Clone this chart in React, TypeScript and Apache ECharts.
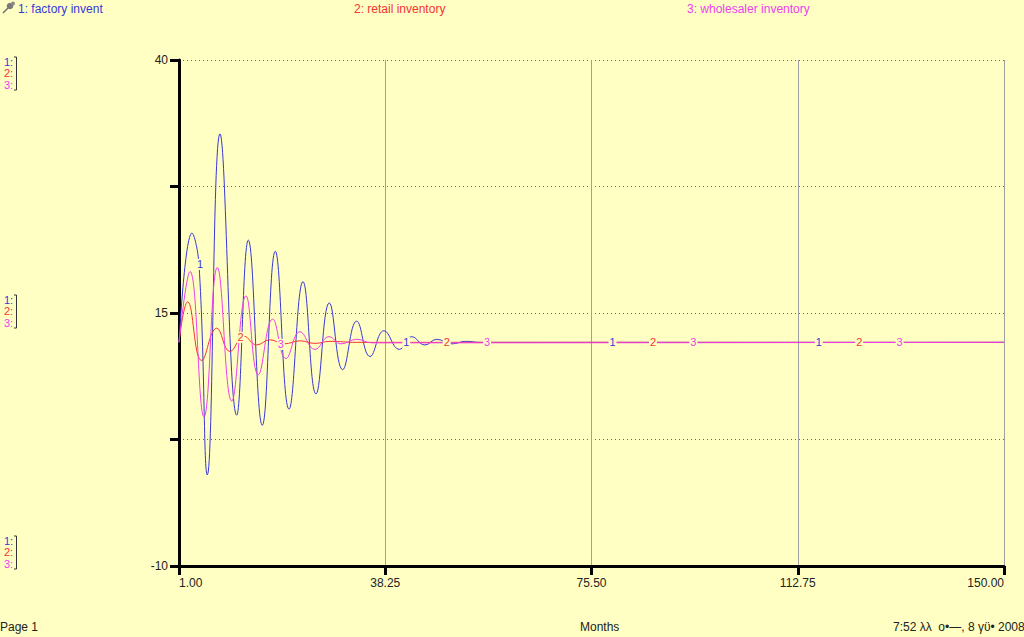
import React, { useEffect, useRef } from "react";
import * as echarts from "echarts";

// ---- data ----
const factoryT = [1, 3.35, 4.61, 6.11, 8.4, 11.42, 13.52, 16.04, 18.39, 20.87, 23.39, 25.74, 28.15, 30.56, 33.09, 35.5, 38.02, 40.79, 43.03, 45.43, 47.54, 50.3, 52.8, 55.4, 150];
const factoryV = [12.1, 22.9, 19.8, -1.0, 32.7, 4.9, 22.2, 3.9, 21.1, 5.5, 18.1, 7.0, 16.0, 9.4, 14.2, 10.7, 13.25, 11.4, 12.66, 11.84, 12.4, 11.95, 12.2, 12.1, 12.1];

const retailT = [1, 2.57, 5.1, 7.81, 10.21, 12.74, 15.03, 17.43, 19.96, 22.85, 25.56, 28.27, 33, 150];
const retailV = [12.1, 16.1, 10.3, 13.5, 11.2, 12.7, 11.85, 12.35, 11.95, 12.25, 12.0, 12.2, 12.1, 12.1];

const wholesalerT = [1, 2.99, 5.51, 7.92, 10.52, 13.1, 15.32, 17.92, 20.32, 22.85, 25.56, 28.09, 30.26, 33.09, 35.86, 150];
const wholesalerV = [12.1, 19.1, 4.75, 19.5, 6.3, 16.7, 8.9, 14.4, 10.5, 13.15, 11.4, 12.66, 11.95, 12.4, 12.05, 12.1];

// line-number markers drawn on each curve
const label1T = [4.79, 42.05, 79.3, 116.55];
const label1V = [19.8, 12.1, 12.1, 12.1];
const label2T = [12.1, 49.35, 86.6, 123.85];
const label2V = [12.6, 12.1, 12.1, 12.1];
const label3T = [19.4, 56.65, 93.9, 131.15];
const label3V = [11.9, 12.1, 12.1, 12.1];

const xTicks = [1, 38.25, 75.5, 112.75, 150];
const yTicks = [-10, 2.5, 15, 27.5, 40];
const yLabels = [-10, 15, 40];

const seriesNames = ["1: factory invent", "2: retail inventory", "3: wholesaler inventory"];

const BG = "#FFFFC4";
const BLUE = "#3838D8";
const RED = "#F43434";
const MAGENTA = "#EE3EEE";
const FONT = "'Liberation Sans', Arial, sans-serif";

function zip(t: number[], v: number[]) {
  return t.map((x, i) => [x, v[i]]);
}

function makeSeries(name: string, t: number[], v: number[], lt: number[], lv: number[], color: string, num: string) {
  return {
    name,
    type: "line",
    data: zip(t, v),
    smooth: 0.45,
    showSymbol: false,
    symbol: "none",
    lineStyle: { color, width: 1 },
    itemStyle: { color },
    silent: true,
    markPoint: {
      symbol: "rect",
      symbolSize: [8, 11],
      silent: true,
      itemStyle: { color: BG },
      label: { show: true, position: "inside", formatter: num, color, fontSize: 11, fontFamily: FONT },
      data: lt.map((x, i) => ({ coord: [x, lv[i]] })),
    },
  };
}

function sideKey(y: number) {
  return [
    { type: "text", left: 4, top: y - 6, style: { text: "1:", fill: BLUE, font: `11px ${FONT}` } },
    { type: "text", left: 4, top: y + 5.5, style: { text: "2:", fill: RED, font: `11px ${FONT}` } },
    { type: "text", left: 4, top: y + 17, style: { text: "3:", fill: MAGENTA, font: `11px ${FONT}` } },
    {
      type: "polyline",
      shape: { points: [[14, y - 5], [16.5, y - 5], [16.5, y + 28], [14, y + 28]] },
      style: { stroke: "#333", lineWidth: 1, fill: null },
    },
  ];
}

export default function App() {
  const ref = useRef<HTMLDivElement>(null);
  useEffect(() => {
    if (!ref.current) return;
    const chart = echarts.init(ref.current, null, { renderer: "svg" });
    const option: any = {
      animation: false,
      backgroundColor: BG,
      grid: { left: 179, right: 20, top: 60, bottom: 71, containLabel: false },
      xAxis: {
        type: "value",
        min: 1,
        max: 150,
        axisLine: { show: true, onZero: false, lineStyle: { color: "#000", width: 3 } },
        axisTick: { show: true, customValues: xTicks, length: 9, lineStyle: { color: "#000", width: 3 } },
        axisLabel: {
          show: true,
          customValues: xTicks,
          formatter: (v: number) => v.toFixed(2),
          margin: 11,
          color: "#222",
          fontSize: 12,
          fontFamily: FONT,
          alignMinLabel: "left",
          alignMaxLabel: "right",
        },
        splitLine: { show: true, lineStyle: { color: "#a0a0a0", width: 1, type: "solid" } },
      },
      yAxis: {
        type: "value",
        min: -10,
        max: 40,
        axisLine: { show: true, onZero: false, lineStyle: { color: "#000", width: 3 } },
        axisTick: { show: true, customValues: yTicks, length: 9, lineStyle: { color: "#000", width: 3 } },
        axisLabel: {
          show: true,
          customValues: yLabels,
          margin: 11,
          color: "#222",
          fontSize: 12,
          fontFamily: FONT,
        },
        splitLine: { show: true, lineStyle: { color: "#666", width: 1, type: [1, 3] } },
      },
      series: [
        makeSeries(seriesNames[0], factoryT, factoryV, label1T, label1V, BLUE, "1"),
        makeSeries(seriesNames[1], retailT, retailV, label2T, label2V, RED, "2"),
        makeSeries(seriesNames[2], wholesalerT, wholesalerV, label3T, label3V, MAGENTA, "3"),
      ],
      graphic: [
        // pin icon
        { type: "line", shape: { x1: 3, y1: 13, x2: 8, y2: 8 }, style: { stroke: "#6a6a6a", lineWidth: 1.5 } },
        { type: "circle", shape: { cx: 10, cy: 6, r: 3.3 }, style: { fill: "#7a7a7a" } },
        { type: "circle", shape: { cx: 13, cy: 3.5, r: 2 }, style: { fill: "#8a8a8a" } },
        { type: "text", left: 18, top: 3, style: { text: seriesNames[0], fill: BLUE, font: `12px ${FONT}` } },
        { type: "text", left: 354, top: 3, style: { text: seriesNames[1], fill: RED, font: `12px ${FONT}` } },
        { type: "text", left: 687, top: 3, style: { text: seriesNames[2], fill: MAGENTA, font: `12px ${FONT}` } },
        ...sideKey(62),
        ...sideKey(300),
        ...sideKey(541),
        { type: "text", left: 0, top: 621, style: { text: "Page 1", fill: "#222", font: `12px ${FONT}` } },
        { type: "text", left: 580, top: 621, style: { text: "Months", fill: "#222", font: `12px ${FONT}` } },
        { type: "text", left: 893, top: 621, style: { text: "7:52 λλ  ο•—, 8 γϋ• 2008", fill: "#222", font: `12px ${FONT}` } },
      ],
    };
    chart.setOption(option);
    return () => chart.dispose();
  }, []);
  return (
    <div
      ref={ref}
      style={{ position: "fixed", left: 0, top: 0, width: 1024, height: 637 }}
    />
  );
}
